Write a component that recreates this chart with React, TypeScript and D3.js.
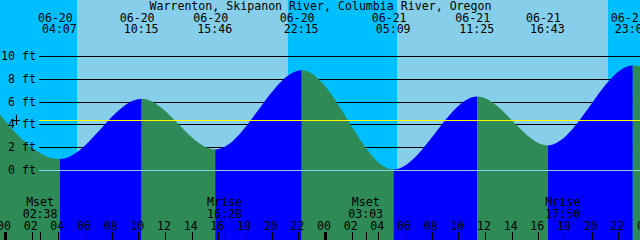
import React from "react";
import * as d3 from "d3";

const title = "Warrenton, Skipanon River, Columbia River, Oregon";

// Tide extremes (first and last lie just outside the visible window)
const tideTimes = [
  "06-19 21:50", "06-20 04:07", "06-20 10:15", "06-20 15:46", "06-20 22:15",
  "06-21 05:09", "06-21 11:25", "06-21 16:43", "06-21 23:05", "06-22 05:55",
];
const tideHeights = [7.7, 1.0, 6.3, 1.85, 8.8, 0.1, 6.5, 2.2, 9.2, -0.4];

const sunriseTimes = ["06-20 05:24", "06-21 05:24"];
const sunsetTimes = ["06-20 21:13", "06-21 21:13"];

const moonTimes = ["06-20 02:38", "06-20 16:28", "06-21 03:03", "06-21 17:50"];
const moonNames = ["Mset", "Mrise", "Mset", "Mrise"];

const levelTicks = [0, 2, 4, 6, 8, 10];
const meanLevel = 4.4;
const hourTicks = d3.range(0, 50, 2);

const W = 640;
const H = 240;
const FONT = "'DejaVu Sans Mono', 'Liberation Mono', monospace";
const FS = 11.6;

const DAY = "#87CEEB";
const NIGHT = "#00BFFF";
const FLOOD = "#0000FF";
const EBB = "#2E8B57";

function toHours(s: string): number {
  const [md, hm] = s.split(" ");
  const day = +md.split("-")[1] - 20;
  const [hh, mm] = hm.split(":").map(Number);
  return day * 24 + hh + mm / 60;
}

export default function App() {
  const x = d3.scaleLinear().domain([0, 48]).range([5, 645]);
  const y = d3.scaleLinear().domain([0, 10]).range([170.5, 56.5]);

  const tHours = tideTimes.map(toHours);
  const pts: [number, number][] = tHours.map((t, i) => [x(t), y(tideHeights[i])]);
  const area = d3
    .area<[number, number]>()
    .x((d) => d[0])
    .y0(H)
    .y1((d) => d[1])
    .curve(d3.curveMonotoneX);
  const areaPath = area(pts) || "";

  const rises = sunriseTimes.map(toHours);
  const sets = sunsetTimes.map(toHours);
  const nights: [number, number][] = [];
  nights.push([-10, rises[0]]);
  for (let i = 0; i < sets.length; i++) {
    nights.push([sets[i], i + 1 < rises.length ? rises[i + 1] : 60]);
  }

  const row = (v: number) => Math.floor(y(v)) + 0.5;

  return (
    <svg
      width={W}
      height={H}
      style={{ position: "absolute", left: 0, top: 0, display: "block" }}
      fontFamily={FONT}
      fontSize={FS}
    >
      <defs>
        <clipPath id="tideClip">
          <path d={areaPath} />
        </clipPath>
      </defs>
      <rect x={0} y={0} width={W} height={H} fill={DAY} />
      {nights.map(([a, b], i) => (
        <rect
          key={"n" + i}
          x={Math.max(0, x(a))}
          y={0}
          width={Math.min(W, x(b)) - Math.max(0, x(a))}
          height={H}
          fill={NIGHT}
        />
      ))}
      {levelTicks
        .filter((v) => v !== 0)
        .map((v) => (
          <line key={"g" + v} x1={39} x2={W} y1={row(v)} y2={row(v)} stroke="#000" strokeWidth={1} />
        ))}
      <g clipPath="url(#tideClip)">
        {tHours.slice(0, -1).map((t, i) => (
          <rect
            key={"s" + i}
            x={x(t)}
            y={0}
            width={x(tHours[i + 1]) - x(t)}
            height={H}
            fill={tideHeights[i + 1] > tideHeights[i] ? FLOOD : EBB}
          />
        ))}
      </g>
      <line x1={39} x2={W} y1={row(0)} y2={row(0)} stroke={DAY} strokeWidth={1} />
      <line x1={39} x2={W} y1={row(meanLevel)} y2={row(meanLevel)} stroke="#FFFF00" strokeWidth={1} />
      {/* marker */}
      <line x1={12} x2={20} y1={row(meanLevel)} y2={row(meanLevel)} stroke="#000" strokeWidth={1} />
      <line x1={16.5} x2={16.5} y1={115} y2={125} stroke="#000" strokeWidth={1} />

      <text x={320.5} y={10} textAnchor="middle" fill="#000">
        {title}
      </text>
      {tideTimes.slice(1, -1).map((s, i) => {
        const cx = x(tHours[i + 1]);
        const [md, hm] = s.split(" ");
        return (
          <g key={"e" + i} fill="#000">
            <text x={cx - 4.5} y={21.5} textAnchor="middle">
              {md}
            </text>
            <text x={cx - 0.5} y={33.3} textAnchor="middle">
              {hm}
            </text>
          </g>
        );
      })}
      {levelTicks.map((v) => (
        <text key={"l" + v} x={36} y={Math.floor(y(v)) + 4} textAnchor="end" fill="#000">
          {v + " ft"}
        </text>
      ))}
      {moonTimes.map((s, i) => {
        const cx = x(toHours(s));
        return (
          <g key={"m" + i} fill="#000">
            <text x={cx} y={205.5} textAnchor="middle">
              {moonNames[i]}
            </text>
            <text x={cx} y={217.5} textAnchor="middle">
              {s.split(" ")[1]}
            </text>
            <line x1={Math.round(cx) + 0.5} x2={Math.round(cx) + 0.5} y1={232} y2={H} stroke="#000" />
          </g>
        );
      })}
      {hourTicks.map((h) => {
        const cx = x(h);
        const midnight = h % 24 === 0;
        return (
          <g key={"h" + h}>
            <text x={cx - 1} y={230} textAnchor="middle" fill="#000">
              {d3.format("02")(h % 24)}
            </text>
            <line
              x1={Math.round(cx) + 0.5}
              x2={Math.round(cx) + 0.5}
              y1={232}
              y2={H}
              stroke="#000"
              strokeWidth={midnight ? 3 : 1}
            />
          </g>
        );
      })}
    </svg>
  );
}
